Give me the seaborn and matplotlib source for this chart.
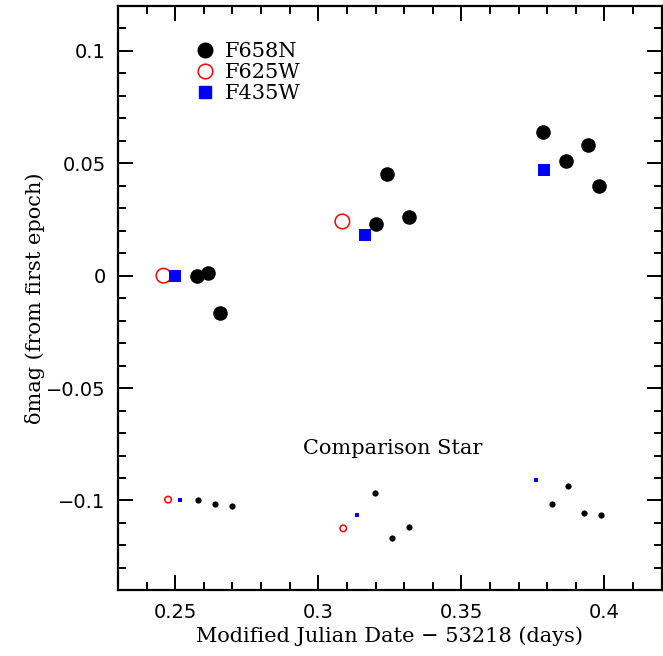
import numpy as np
import pandas as pd
import matplotlib
matplotlib.use("Agg")
import matplotlib.pyplot as plt
from matplotlib.ticker import MultipleLocator, FuncFormatter
from matplotlib.lines import Line2D
import seaborn as sns

# =================== Dados ===================
# target star
f658n_x = [0.2575, 0.2616, 0.2655, 0.3201, 0.3241, 0.3318, 0.3787, 0.3865, 0.3943, 0.3982]
f658n_y = [0.0, 0.0012, -0.0166, 0.0231, 0.0452, 0.0262, 0.0641, 0.0511, 0.0581, 0.0400]
f625w_x = [0.2459, 0.3084]
f625w_y = [0.0, 0.0241]
f435w_x = [0.2500, 0.3163, 0.3788]
f435w_y = [0.0, 0.0182, 0.0471]

# comparison star
comp_f658n_x = [0.2581, 0.2639, 0.2698, 0.3198, 0.3257, 0.3316, 0.3817, 0.3873, 0.3930, 0.3987]
comp_f658n_y = [-0.0996, -0.1015, -0.1025, -0.0966, -0.1166, -0.1116, -0.1015, -0.0935, -0.1056, -0.1065]
comp_f625w_x = [0.2475, 0.3087]
comp_f625w_y = [-0.0996, -0.1124]
comp_f435w_x = [0.2517, 0.3136, 0.3761]
comp_f435w_y = [-0.0996, -0.1064, -0.0908]

filters = ["F658N", "F625W", "F435W"]

# =================== Estilo ===================
sns.set_style("ticks", {"axes.edgecolor": "black", "text.color": "black",
                        "axes.labelcolor": "black", "xtick.color": "black",
                        "ytick.color": "black"})
plt.rcParams["font.family"] = ["DejaVu Serif"]
plt.rcParams["axes.linewidth"] = 1.6

fig = plt.figure(figsize=(6.63, 6.56), dpi=100)
ax = fig.add_axes([0.178, 0.100, 0.820, 0.891])

# alvo
sns.scatterplot(x=f658n_x, y=f658n_y, ax=ax, color="black", marker="o", s=110, linewidth=0)
sns.scatterplot(x=f625w_x, y=f625w_y, ax=ax, marker="o", s=110, facecolor="none",
                edgecolor="red", linewidth=1.1)
sns.scatterplot(x=f435w_x, y=f435w_y, ax=ax, color="blue", marker="s", s=78, linewidth=0)

# estrela de comparacao
sns.scatterplot(x=comp_f658n_x, y=comp_f658n_y, ax=ax, color="black", marker="o", s=20, linewidth=0)
sns.scatterplot(x=comp_f625w_x, y=comp_f625w_y, ax=ax, marker="o", s=22, facecolor="none",
                edgecolor="red", linewidth=1.1)
sns.scatterplot(x=comp_f435w_x, y=comp_f435w_y, ax=ax, color="blue", marker="s", s=11, linewidth=0)

ax.text(0.326, -0.0769, "Comparison Star", ha="center", va="center", fontsize=15, color="black")

# legenda
handles = [
    Line2D([], [], linestyle="none", marker="o", markersize=10.5, color="black"),
    Line2D([], [], linestyle="none", marker="o", markersize=10.5, markerfacecolor="none",
           markeredgecolor="red", markeredgewidth=1.1),
    Line2D([], [], linestyle="none", marker="s", markersize=8.8, color="blue"),
]
ax.legend(handles, filters, loc="upper left", bbox_to_anchor=(0.125, 0.952), frameon=False,
          fontsize=15, handletextpad=0.45, labelspacing=0.1, handlelength=1.0,
          borderaxespad=0, labelcolor="black")

# =================== Eixos ===================
ax.set_xlim(0.23, 0.42)
ax.set_ylim(-0.14, 0.12)
ax.xaxis.set_major_locator(MultipleLocator(0.05))
ax.xaxis.set_minor_locator(MultipleLocator(0.01))
ax.yaxis.set_major_locator(MultipleLocator(0.05))
ax.yaxis.set_minor_locator(MultipleLocator(0.01))

fmt = FuncFormatter(lambda v, p: ("%g" % round(v, 4)).replace("-", "\u2212"))
ax.xaxis.set_major_formatter(fmt)
ax.yaxis.set_major_formatter(fmt)

ax.tick_params(which="both", direction="in", top=True, right=True, width=1.4,
               color="black", labelcolor="black")
ax.tick_params(which="major", length=11, labelsize=14, pad=9)
ax.tick_params(which="minor", length=5.5)
for lab in ax.get_xticklabels() + ax.get_yticklabels():
    lab.set_family("DejaVu Sans")

ax.set_xlabel("Modified Julian Date \u2212 53218 (days)", fontsize=15, labelpad=3, color="black")
ax.set_ylabel("\u03b4mag (from first epoch)", fontsize=15, labelpad=1, color="black")

fig.savefig("out.png", dpi=100)
